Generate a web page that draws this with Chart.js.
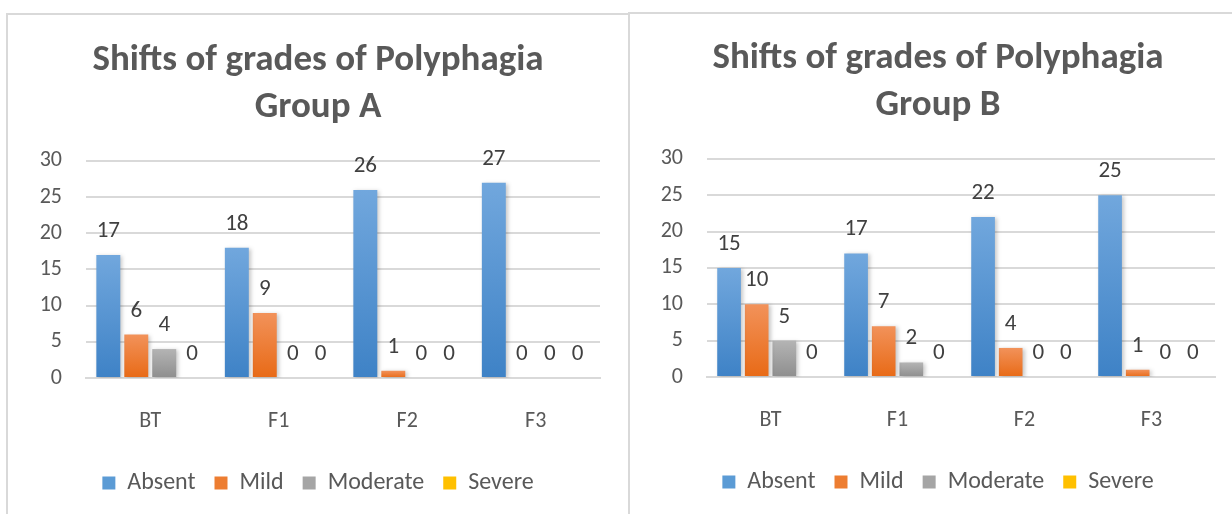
<!DOCTYPE html>
<html>
<head>
<meta charset="utf-8">
<script src="https://cdn.jsdelivr.net/npm/chart.js@4"></script>
<style>
  body { margin: 0; background: #fff; width: 1232px; height: 514px; overflow: hidden; position: relative; }
  .box { position: absolute; border: 2px solid #d9d9d9; background: #fff; box-sizing: border-box; }
  #boxA { left: 6px; top: 13px; width: 624px; height: 520px; }
  #boxB { left: 628px; top: 12px; width: 620px; height: 520px; }
  .box canvas { position: absolute; left: 0; top: 0; }
</style>
</head>
<body>
<div class="box" id="boxA"><canvas id="chartA" width="620" height="500"></canvas></div>
<div class="box" id="boxB"><canvas id="chartB" width="616" height="500"></canvas></div>
<script>
// data
const categories = ['BT', 'F1', 'F2', 'F3'];
const seriesNames = ['Absent', 'Mild', 'Moderate', 'Severe'];
const yTicks = [0, 5, 10, 15, 20, 25, 30];

const groupA_absent = [17, 18, 26, 27];
const groupA_mild = [6, 9, 1, 0];
const groupA_moderate = [4, 0, 0, 0];
const groupA_severe = [0, 0, 0, 0];

const groupB_absent = [15, 17, 22, 25];
const groupB_mild = [10, 7, 4, 1];
const groupB_moderate = [5, 2, 0, 0];
const groupB_severe = [0, 0, 0, 0];

// top / bottom colours of the office-style gradient
const gradTop = ['#71a7dd', '#f2925a', '#b4b4b4', '#ffcd33'];
const gradBottom = ['#3e82c6', '#e86a16', '#8e8e8e', '#f0b400'];
const legendColors = ['#5b9bd5', '#ed7d31', '#a5a5a5', '#ffc000'];

const FONT = "Carlito, Lato, 'Open Sans', sans-serif";

function barFill(i) {
    return function (ctx) {
        const chart = ctx.chart;
        const y = chart.scales && chart.scales.y;
        if (!chart.chartArea || !y || ctx.type !== 'data') return legendColors[i];
        const top = y.getPixelForValue(ctx.parsed.y);
        const bottom = y.getPixelForValue(0);
        if (bottom - top < 1) return legendColors[i];
        const g = chart.ctx.createLinearGradient(0, top, 0, bottom);
        g.addColorStop(0, gradTop[i]);
        g.addColorStop(1, gradBottom[i]);
        return g;
    };
}

// soft shadow on the bars, like the office style
const barShadow = {
    id: 'barShadow',
    beforeDatasetsDraw(chart) {
        const c = chart.ctx;
        c.save();
        c.shadowColor = 'rgba(0,0,0,0.22)';
        c.shadowBlur = 4;
        c.shadowOffsetX = 2;
        c.shadowOffsetY = 1;
    },
    afterDatasetsDraw(chart) {
        chart.ctx.restore();
    }
};

const valueLabels = {
    id: 'valueLabels',
    afterDatasetsDraw(chart) {
        const c = chart.ctx;
        c.save();
        c.font = '23px ' + FONT;
        c.fillStyle = '#404040';
        c.textAlign = 'center';
        c.textBaseline = 'alphabetic';
        chart.data.datasets.forEach((ds, di) => {
            const meta = chart.getDatasetMeta(di);
            meta.data.forEach((bar, i) => {
                c.fillText(ds.data[i], bar.x, bar.y - 18);
            });
        });
        c.restore();
    }
};

function makeChart(id, title, seriesData, side, plotLeft, titleTop, titleBottom) {
    const ctx = document.getElementById(id).getContext('2d');
    return new Chart(ctx, {
        type: 'bar',
        data: {
            labels: categories,
            datasets: seriesNames.map((name, i) => ({
                label: name,
                data: seriesData[i],
                backgroundColor: barFill(i),
                borderWidth: 0,
                barPercentage: 0.857,
                categoryPercentage: 0.87
            }))
        },
        options: {
            responsive: false,
            animation: false,
            layout: { padding: { left: side, right: side, top: 0, bottom: 10 } },
            plugins: {
                title: {
                    display: true,
                    text: title,
                    color: '#595959',
                    font: { family: FONT, size: 37, weight: 'bold', lineHeight: 1.27 },
                    padding: { top: titleTop, bottom: titleBottom }
                },
                legend: {
                    position: 'bottom',
                    labels: {
                        color: '#595959',
                        font: { family: FONT, size: 24 },
                        boxWidth: 13,
                        boxHeight: 13,
                        padding: 19,
                        generateLabels: chart => seriesNames.map((name, i) => ({
                            text: name,
                            fillStyle: legendColors[i],
                            strokeStyle: legendColors[i],
                            lineWidth: 0,
                            datasetIndex: i,
                            fontColor: '#595959'
                        }))
                    }
                },
                tooltip: { enabled: false }
            },
            scales: {
                x: {
                    afterFit: scale => { scale.height = 74; },
                    grid: { display: false, drawTicks: false },
                    border: { display: true, color: '#d9d9d9', width: 2 },
                    ticks: { color: '#595959', font: { family: FONT, size: 22 }, padding: 30 }
                },
                y: {
                    min: 0,
                    max: 30,
                    afterFit: scale => { scale.width = plotLeft - side; },
                    afterBuildTicks: scale => { scale.ticks = yTicks.map(v => ({ value: v })); },
                    grid: { color: '#d9d9d9', lineWidth: 2, drawTicks: false },
                    border: { display: false },
                    ticks: { color: '#595959', font: { family: FONT, size: 22 }, padding: 24 }
                }
            }
        },
        plugins: [barShadow, valueLabels]
    });
}

makeChart('chartA', ['Shifts of grades of Polyphagia', 'Group A'],
    [groupA_absent, groupA_mild, groupA_moderate, groupA_severe], 28, 78, 22, 30);
makeChart('chartB', ['Shifts of grades of Polyphagia', 'Group B'],
    [groupB_absent, groupB_mild, groupB_moderate, groupB_severe], 31, 77, 21, 30);
</script>
</body>
</html>
